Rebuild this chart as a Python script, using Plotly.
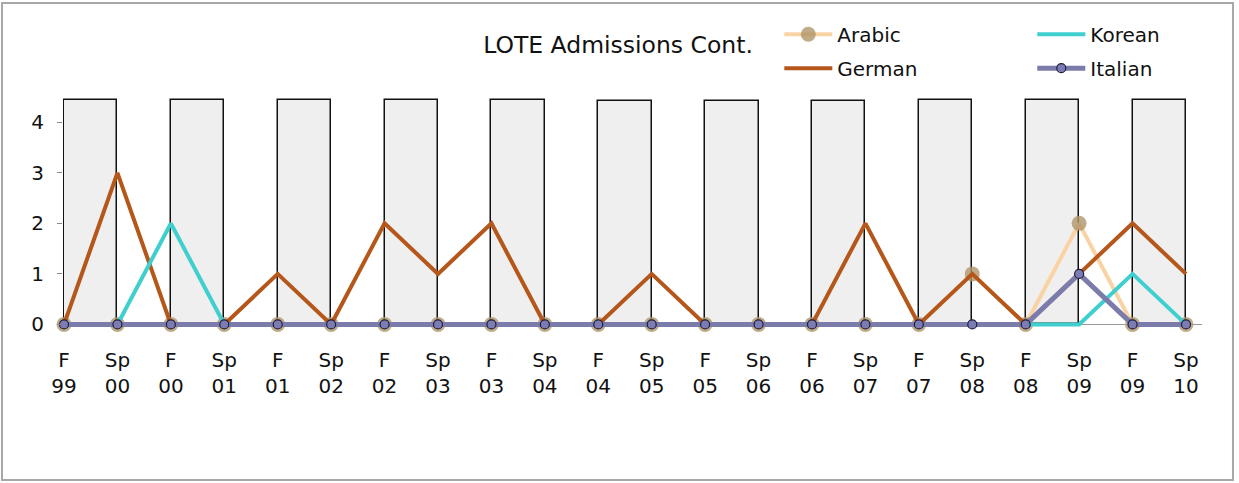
import plotly.graph_objects as go

# ---- data ----
terms = ["F<br>99", "Sp<br>00", "F<br>00", "Sp<br>01", "F<br>01", "Sp<br>02", "F<br>02", "Sp<br>03",
         "F<br>03", "Sp<br>04", "F<br>04", "Sp<br>05", "F<br>05", "Sp<br>06", "F<br>06", "Sp<br>07",
         "F<br>07", "Sp<br>08", "F<br>08", "Sp<br>09", "F<br>09", "Sp<br>10"]
arabic  = [0, 0, 0, 0, 0, 0, 0, 0, 0, 0, 0, 0, 0, 0, 0, 0, 0, 1, 0, 2, 0, 0]
german  = [0, 3, 0, 0, 1, 0, 2, 1, 2, 0, 0, 1, 0, 0, 0, 2, 0, 1, 0, 1, 2, 1]
korean  = [0, 0, 2, 0, 0, 0, 0, 0, 0, 0, 0, 0, 0, 0, 0, 0, 0, 0, 0, 0, 1, 0]
italian = [0, 0, 0, 0, 0, 0, 0, 0, 0, 0, 0, 0, 0, 0, 0, 0, 0, 0, 0, 1, 0, 0]
# background shading columns (one per F -> Sp span)
shade_pos    = [0.5, 2.5, 4.5, 6.5, 8.5, 10.5, 12.5, 14.5, 16.5, 18.5, 20.5]
shade_values = [4.45, 4.45, 4.45, 4.45, 4.45, 4.42, 4.42, 4.42, 4.45, 4.45, 4.45]

xs = list(range(len(terms)))
FONT = "DejaVu Sans"

fig = go.Figure()
fig.add_trace(go.Bar(x=shade_pos, y=shade_values, width=1.0, showlegend=False,
                     marker=dict(color="#EFEFEF", line=dict(color="#111111", width=1.5)),
                     hoverinfo="skip"))
fig.add_trace(go.Scatter(x=xs, y=arabic, name="Arabic", mode="lines+markers", legend="legend",
                         legendgroup="a", cliponaxis=False,
                         line=dict(color="#FAD3A4", width=4),
                         marker=dict(size=15, color="rgba(175,150,105,0.8)", line=dict(width=0))))
fig.add_trace(go.Scatter(x=xs, y=german, name="German", mode="lines", legend="legend",
                         legendgroup="g", cliponaxis=False,
                         line=dict(color="#B5561A", width=4)))
fig.add_trace(go.Scatter(x=xs, y=korean, name="Korean", mode="lines", legend="legend2",
                         legendgroup="k", cliponaxis=False,
                         line=dict(color="#3FCFCF", width=4)))
fig.add_trace(go.Scatter(x=xs, y=italian, name="Italian", mode="lines+markers", legend="legend2",
                         legendgroup="i", cliponaxis=False,
                         line=dict(color="#7C7CAA", width=5),
                         marker=dict(size=9, color="#7C7CB2", line=dict(color="#1E1E40", width=1.2))))

fig.update_layout(
    width=1239, height=483,
    margin=dict(l=63, r=37, t=92, b=151),
    paper_bgcolor="white", plot_bgcolor="white",
    font=dict(family=FONT, size=20, color="#111111"),
    barmode="overlay", bargap=0,
    title=dict(text="LOTE Admissions Cont.", font=dict(family=FONT, size=23.5, color="#111111"),
               x=0.4873, xref="paper", xanchor="center", y=0.907, yref="container", yanchor="middle"),
    legend=dict(x=0.6289, y=1.322, xanchor="left", yanchor="top", orientation="v",
                traceorder="grouped", tracegroupgap=5,
                font=dict(family=FONT, size=20), itemwidth=48, bgcolor="rgba(0,0,0,0)"),
    legend2=dict(x=0.8510, y=1.322, xanchor="left", yanchor="top", orientation="v",
                 traceorder="grouped", tracegroupgap=5,
                 font=dict(family=FONT, size=20), itemwidth=48, bgcolor="rgba(0,0,0,0)"),
    xaxis=dict(range=[-0.019, 21.3], tickmode="array", tickvals=xs, ticktext=terms,
               showgrid=False, zeroline=False, showline=False, ticks="",
               ticklabelstandoff=14, tickfont=dict(size=20)),
    yaxis=dict(range=[-0.15, 4.6], tickmode="array", tickvals=[0, 1, 2, 3, 4],
               showgrid=False, zeroline=True, zerolinecolor="#999999", zerolinewidth=1,
               showline=False, ticks="outside",
               ticklen=5, tickcolor="#888888", tickfont=dict(size=20), ticklabelstandoff=9),
    shapes=[dict(type="rect", xref="paper", yref="paper", x0=-0.05356, x1=1.0272, y0=-0.617, y1=1.371,
                 line=dict(color="#A8A8A8", width=2), fillcolor="rgba(0,0,0,0)", layer="below")],
)

fig.write_html("out.html", config={"displayModeBar": False},
               post_script="document.body.style.margin='0';document.body.style.overflow='hidden';")
